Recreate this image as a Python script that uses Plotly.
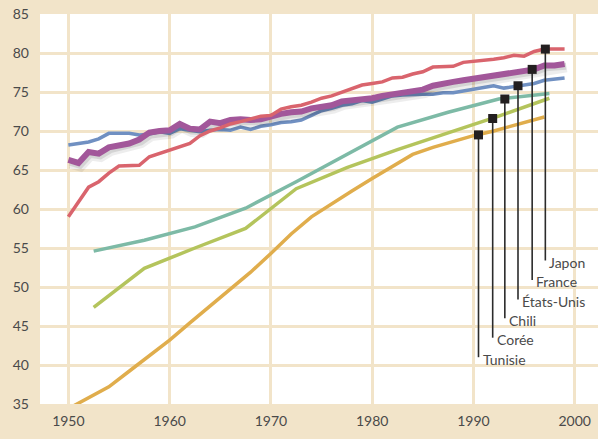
import plotly.graph_objects as go

# ---- data ----
annual_years = list(range(1950, 2000))
japon = [59.0, 60.9, 62.8, 63.5, 64.6, 65.5, 65.5, 65.6, 66.7, 67.1,
         67.5, 68.0, 68.4, 69.4, 70.0, 70.4, 70.9, 71.2, 71.6, 71.9,
         72.0, 72.8, 73.1, 73.3, 73.7, 74.2, 74.5, 75.0, 75.5, 75.9,
         76.1, 76.3, 76.8, 76.9, 77.3, 77.6, 78.2, 78.3, 78.3, 78.8,
         78.9, 79.0, 79.2, 79.4, 79.7, 79.6, 80.2, 80.5, 80.5, 80.5]
france = [66.3, 65.9, 67.3, 67.1, 67.9, 68.2, 68.4, 68.9, 69.8, 70.0,
          70.1, 70.9, 70.3, 70.2, 71.2, 71.0, 71.4, 71.5, 71.4, 71.5,
          71.9, 72.2, 72.4, 72.5, 72.9, 73.1, 73.3, 73.8, 73.9, 74.1,
          74.2, 74.5, 74.7, 74.8, 75.1, 75.3, 75.8, 76.1, 76.3, 76.5,
          76.7, 76.9, 77.1, 77.3, 77.6, 77.8, 77.9, 78.4, 78.4, 78.6]
etats_unis = [68.2, 68.4, 68.6, 69.0, 69.7, 69.7, 69.7, 69.5, 69.6, 69.9,
              69.7, 70.3, 70.1, 69.9, 70.1, 70.2, 70.1, 70.5, 70.2, 70.6,
              70.8, 71.1, 71.2, 71.4, 72.0, 72.6, 72.9, 73.3, 73.5, 73.9,
              73.7, 74.1, 74.5, 74.6, 74.7, 74.7, 74.7, 74.9, 74.9, 75.1,
              75.4, 75.5, 75.8, 75.5, 75.7, 75.8, 76.1, 76.5, 76.7, 76.8]

period_years = [1952.5, 1957.5, 1962.5, 1967.5, 1972.5, 1977.5, 1982.5, 1987.5, 1992.5, 1997.5]
chili = [54.6, 56.0, 57.7, 60.1, 63.5, 67.0, 70.5, 72.4, 74.1, 74.8]
coree = [47.4, 52.4, 55.0, 57.5, 62.6, 65.3, 67.6, 69.7, 71.9, 74.2]

tunisie_years = [1950, 1952, 1954, 1956, 1958, 1960, 1962, 1964, 1966, 1968,
                 1970, 1972, 1974, 1976, 1978, 1980, 1982, 1984, 1986, 1988,
                 1990, 1992, 1994, 1996, 1997]
tunisie = [34.4, 35.8, 37.2, 39.2, 41.2, 43.2, 45.4, 47.6, 49.7, 51.9,
           54.3, 56.8, 59.0, 60.7, 62.3, 63.9, 65.5, 67.0, 67.9, 68.7,
           69.4, 70.0, 70.7, 71.4, 71.8]

label_names = ["Tunisie", "Corée", "Chili", "États-Unis", "France", "Japon"]
label_years = [1990.5, 1991.9, 1993.1, 1994.4, 1995.8, 1997.1]
marker_values = [69.5, 71.6, 74.1, 75.8, 77.9, 80.5]
label_end_values = [41.0, 43.5, 46.0, 48.4, 50.9, 53.4]

x_ticks = [1950, 1960, 1970, 1980, 1990, 2000]
y_ticks = [35, 40, 45, 50, 55, 60, 65, 70, 75, 80, 85]

# ---- styles ----
C_JAP = "#D9646D"
C_FRA = "#A2579A"
C_USA = "#7090C2"
C_CHI = "#7DBAA6"
C_COR = "#B4C45C"
C_TUN = "#E0AD4C"
BEIGE = "#F2E4C9"
GRID = "#F2E4C9"
TXT = "#4A4A4A"
FONT = "Lato, 'Open Sans', sans-serif"

fig = go.Figure()

def line(x, y, color, width):
    fig.add_trace(go.Scatter(x=x, y=y, mode="lines", hoverinfo="skip",
                             line=dict(color=color, width=width), showlegend=False))

line(tunisie_years, tunisie, C_TUN, 3.5)
line(period_years, coree, C_COR, 3.5)
line(period_years, chili, C_CHI, 3.5)
line(annual_years, etats_unis, C_USA, 3.5)
# soft shadow under France
line([y + 0.2 for y in annual_years], [v - 0.45 for v in france], "rgba(0,0,0,0.07)", 10)
line([y + 0.15 for y in annual_years], [v - 0.3 for v in france], "rgba(0,0,0,0.10)", 7)
line(annual_years, france, C_FRA, 6)
line(annual_years, japon, C_JAP, 3.5)

# leader lines
for yr, mv, ev in zip(label_years, marker_values, label_end_values):
    fig.add_trace(go.Scatter(x=[yr, yr], y=[mv, ev], mode="lines", hoverinfo="skip",
                             line=dict(color="#2B2B2B", width=1.6), showlegend=False))
fig.add_trace(go.Scatter(x=label_years, y=marker_values, mode="markers", hoverinfo="skip",
                         marker=dict(symbol="square", size=9, color="#231F20"),
                         showlegend=False))

for name, yr, ev in zip(label_names, label_years, label_end_values):
    fig.add_annotation(x=yr, y=ev, text=name, showarrow=False, xanchor="left",
                       yanchor="middle", xshift=2, yshift=-2,
                       font=dict(family=FONT, size=14, color=TXT))

fig.update_layout(
    width=598, height=439,
    margin=dict(l=40, r=0, t=14, b=35),
    paper_bgcolor=BEIGE, plot_bgcolor="white",
    font=dict(family=FONT, size=14, color=TXT),
    xaxis=dict(range=[1947.2, 2002.3], tickvals=x_ticks, showgrid=True,
               gridcolor=GRID, gridwidth=3, zeroline=False, showline=False,
               ticks="", ticklabelstandoff=7, tickfont=dict(size=14, color=TXT)),
    yaxis=dict(range=[35, 85], tickvals=y_ticks, showgrid=True,
               gridcolor=GRID, gridwidth=3, zeroline=False, showline=False,
               ticks="", ticklabelstandoff=10, tickfont=dict(size=14, color=TXT)),
)

fig.write_html("out.html", config={"displayModeBar": False},
               post_script="document.body.style.margin='0';document.body.style.background='" + BEIGE + "';")
